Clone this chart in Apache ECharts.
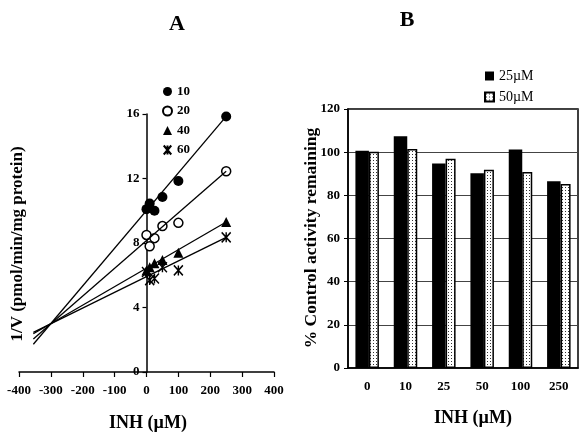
<!DOCTYPE html>
<html>
<head>
<meta charset="utf-8">
<script src="https://cdn.jsdelivr.net/npm/echarts@6/dist/echarts.min.js"></script>
<style>html,body{margin:0;padding:0;background:#fff;}#c{width:588px;height:437px;}</style>
</head>
<body>
<div id="c"></div>
<script>
// Panel A data (Dixon plot)
const inhConc = [0, 10, 25, 50, 100, 250];
const s10 = [10.1, 10.45, 10.0, 10.85, 11.85, 15.85];
const s20 = [8.5, 7.8, 8.3, 9.05, 9.25, 12.45];
const s40 = [6.3, 6.5, 6.75, 6.95, 7.4, 9.3];
const s60 = [6.2, 5.7, 5.8, 6.5, 6.3, 8.35];
const fit10 = [[-355, 1.72], [250, 15.85]];
const fit20 = [[-355, 2.05], [250, 12.45]];
const fit40 = [[-355, 2.37], [250, 9.3]];
const fit60 = [[-355, 2.46], [250, 8.35]];
const xTicksA = [-400, 400, 100];
const yTicksA = [0, 16, 4];

// Panel B data
const catsB = ['0', '10', '25', '50', '100', '250'];
const b25 = [100.6, 107.4, 94.8, 90.2, 101.2, 86.5];
const b50 = [100.2, 101.5, 97.0, 91.8, 90.8, 85.2];
const yTicksB = [0, 120, 20];

const pair = (xs, ys) => xs.map((x, i) => [x, ys[i]]);

const pc = document.createElement('canvas');
pc.width = 3; pc.height = 3;
const px = pc.getContext('2d');
px.fillStyle = '#fff'; px.fillRect(0, 0, 3, 3);
px.fillStyle = '#333'; px.fillRect(1, 1, 1, 1);
const dotted = { image: pc, repeat: 'repeat' };

const serif = '"Liberation Serif", "Times New Roman", serif';
const lbl = { fontFamily: serif, fontWeight: 'bold', color: '#000' };
const astPath = 'path://M0,0L10,12M10,0L0,12M5,0L5,12';
const gridA = { left: 19, right: 314, top: 114, bottom: 65 };
const zeroPx = gridA.left + (588 - gridA.left - gridA.right) * (0 - xTicksA[0]) / (xTicksA[1] - xTicksA[0]);

const chart = echarts.init(document.getElementById('c'), null, { renderer: 'canvas' });
chart.setOption({
  animation: false,
  backgroundColor: '#fff',
  grid: [
    gridA,
    { left: 348, right: 10, top: 109, bottom: 69, show: true, borderColor: '#000', borderWidth: 1.5, backgroundColor: '#fff' }
  ],
  xAxis: [
    { type: 'value', gridIndex: 0, min: xTicksA[0], max: xTicksA[1], interval: xTicksA[2],
      axisLine: { onZero: false, lineStyle: { color: '#000', width: 1.5 } },
      axisTick: { length: 5, lineStyle: { color: '#000', width: 1.2 } },
      axisLabel: Object.assign({ fontSize: 13, margin: 12 }, lbl),
      splitLine: { show: false } },
    { type: 'category', gridIndex: 1, data: catsB,
      axisLine: { lineStyle: { color: '#000', width: 1.5 } },
      axisTick: { length: 4, lineStyle: { color: '#000', width: 1 } },
      axisLabel: Object.assign({ fontSize: 13, margin: 12 }, lbl) }
  ],
  yAxis: [
    { type: 'value', gridIndex: 0, min: yTicksA[0], max: yTicksA[1], interval: yTicksA[2],
      offset: -(zeroPx - gridA.left),
      axisLine: { show: true, onZero: false, lineStyle: { color: '#000', width: 1.5 } },
      axisTick: { show: true, length: 4, lineStyle: { color: '#000', width: 1.2 } },
      axisLabel: Object.assign({ fontSize: 13, margin: 7 }, lbl),
      splitLine: { show: false } },
    { type: 'value', gridIndex: 1, min: yTicksB[0], max: yTicksB[1], interval: yTicksB[2],
      axisLine: { show: true, lineStyle: { color: '#000', width: 1.5 } },
      axisTick: { show: true, length: 4, lineStyle: { color: '#000', width: 1 } },
      axisLabel: Object.assign({ fontSize: 13, margin: 8 }, lbl),
      splitLine: { show: true, lineStyle: { color: '#444', width: 1 } } }
  ],
  legend: [
    { orient: 'vertical', left: 157, top: 80, itemWidth: 9, itemHeight: 9, itemGap: 6.5,
      textStyle: Object.assign({ fontSize: 13 }, lbl),
      data: [
        { name: '10', icon: 'circle' },
        { name: '20', icon: 'circle' },
        { name: '40', icon: 'triangle' },
        { name: '60', icon: astPath }
      ] },
    { orient: 'vertical', left: 479, top: 64, itemWidth: 9, itemHeight: 9, itemGap: 7,
      textStyle: { fontFamily: serif, fontSize: 14, color: '#000' },
      data: [{ name: '25µM', icon: 'rect' }, { name: '50µM', icon: 'rect' }] }
  ],
  graphic: [
    { type: 'text', x: 177, y: 24, style: { text: 'A', font: 'bold 22px ' + serif, fill: '#000', align: 'center', verticalAlign: 'middle', textAlign: 'center', textVerticalAlign: 'middle' } },
    { type: 'text', x: 407, y: 20, style: { text: 'B', font: 'bold 22px ' + serif, fill: '#000', align: 'center', verticalAlign: 'middle', textAlign: 'center', textVerticalAlign: 'middle' } },
    { type: 'text', x: 17.5, y: 244, rotation: Math.PI / 2, style: { text: '1/V (pmol/min/mg protein)', font: 'bold 17px ' + serif, fill: '#000', align: 'center', verticalAlign: 'middle', textAlign: 'center', textVerticalAlign: 'middle' } },
    { type: 'text', x: 311, y: 238, rotation: Math.PI / 2, style: { text: '% Control activity remaining', font: 'bold 17.5px ' + serif, fill: '#000', align: 'center', verticalAlign: 'middle', textAlign: 'center', textVerticalAlign: 'middle' } },
    { type: 'text', x: 148, y: 423, style: { text: 'INH (µM)', font: 'bold 18px ' + serif, fill: '#000', align: 'center', verticalAlign: 'middle', textAlign: 'center', textVerticalAlign: 'middle' } },
    { type: 'text', x: 473, y: 418, style: { text: 'INH (µM)', font: 'bold 18px ' + serif, fill: '#000', align: 'center', verticalAlign: 'middle', textAlign: 'center', textVerticalAlign: 'middle' } }
  ],
  series: [
    { type: 'line', name: 'fit10', xAxisIndex: 0, yAxisIndex: 0, data: fit10, symbol: 'none', silent: true, lineStyle: { color: '#000', width: 1.3 } },
    { type: 'line', name: 'fit20', xAxisIndex: 0, yAxisIndex: 0, data: fit20, symbol: 'none', silent: true, lineStyle: { color: '#000', width: 1.3 } },
    { type: 'line', name: 'fit40', xAxisIndex: 0, yAxisIndex: 0, data: fit40, symbol: 'none', silent: true, lineStyle: { color: '#000', width: 1.3 } },
    { type: 'line', name: 'fit60', xAxisIndex: 0, yAxisIndex: 0, data: fit60, symbol: 'none', silent: true, lineStyle: { color: '#000', width: 1.3 } },
    { type: 'scatter', name: '10', xAxisIndex: 0, yAxisIndex: 0, data: pair(inhConc, s10), symbol: 'circle', symbolSize: 10, itemStyle: { color: '#000', opacity: 1 } },
    { type: 'scatter', name: '20', xAxisIndex: 0, yAxisIndex: 0, data: pair(inhConc, s20), symbol: 'circle', symbolSize: 9, itemStyle: { color: '#fff', borderColor: '#000', borderWidth: 1.5, opacity: 1 } },
    { type: 'scatter', name: '40', xAxisIndex: 0, yAxisIndex: 0, data: pair(inhConc, s40), symbol: 'triangle', symbolSize: 10, itemStyle: { color: '#000', opacity: 1 } },
    { type: 'scatter', name: '60', xAxisIndex: 0, yAxisIndex: 0, data: pair(inhConc, s60), symbol: astPath, symbolSize: [9, 10], itemStyle: { color: '#000', borderColor: '#000', borderWidth: 1.5, opacity: 1 } },
    { type: 'bar', name: '25µM', xAxisIndex: 1, yAxisIndex: 1, data: b25, barWidth: 13.5, barGap: '0%', itemStyle: { color: '#000' } },
    { type: 'bar', name: '50µM', xAxisIndex: 1, yAxisIndex: 1, data: b50, barWidth: 10, barGap: '0%', itemStyle: { color: dotted, borderColor: '#000', borderWidth: 1.5 } }
  ]
});
</script>
</body>
</html>
